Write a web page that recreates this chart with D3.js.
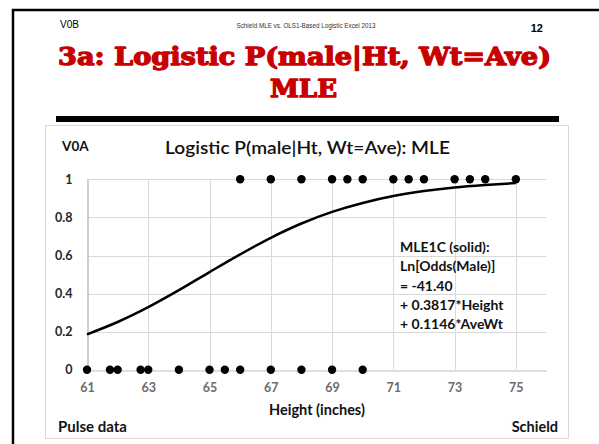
<!DOCTYPE html>
<html>
<head>
<meta charset="utf-8">
<script src="https://cdn.jsdelivr.net/npm/d3@7/dist/d3.min.js"></script>
<style>
  html, body { margin: 0; padding: 0; background: #fff; }
  svg { display: block; }
</style>
</head>
<body>
<svg id="slide" width="599" height="444"></svg>
<script>
// Heights (inches) of males, plotted at P = 1
const maleHeights = [66, 67, 68, 69, 69.5, 70, 71, 71.5, 72, 73, 73.5, 74, 75];
// Heights (inches) of females, plotted at P = 0
const femaleHeights = [61, 61.75, 62, 62.75, 63, 64, 65, 65.5, 66, 67, 68, 69, 70];
// Fitted MLE logistic curve: P(male) at each height, weight held at average
const fitHeights = [61, 62, 63, 64, 65, 66, 67, 68, 69, 70, 71, 72, 73, 74, 75];
const fitProb = [0.186, 0.251, 0.329, 0.418, 0.513, 0.606, 0.693, 0.768, 0.829, 0.876, 0.912, 0.938, 0.957, 0.970, 0.980];
// Axis ticks
const xTicks = [61, 63, 65, 67, 69, 71, 73, 75];
const yTicks = [0, 0.2, 0.4, 0.6, 0.8, 1];
// Fit equation annotation
const noteLines = ["MLE1C (solid):", "Ln[Odds(Male)]", "= -41.40", "+ 0.3817*Height", "+ 0.1146*AveWt"];

const svg = d3.select("#slide");
const sans = "Lato, 'Open Sans', sans-serif";

// Slide frame
svg.append("path")
  .attr("d", "M13,444 V10 H599")
  .attr("fill", "none").attr("stroke", "#000").attr("stroke-width", 2.5);

// Slide header
svg.append("text").attr("x", 60).attr("y", 28)
  .attr("font-family", "'Liberation Sans', Arial, sans-serif").attr("font-size", 10)
  .attr("fill", "#000").text("V0B");
svg.append("text").attr("x", 306).attr("y", 28).attr("text-anchor", "middle")
  .attr("font-family", "'Liberation Sans', Arial, sans-serif").attr("font-size", 6.3)
  .attr("fill", "#333").text("Schield MLE vs. OLS1-Based Logistic Excel 2013");
svg.append("text").attr("x", 543).attr("y", 32).attr("text-anchor", "end")
  .attr("font-family", "'Liberation Sans', Arial, sans-serif").attr("font-size", 11)
  .attr("font-weight", "bold").attr("fill", "#000").text("12");

// Slide title (two lines), heavy slab face
const titleFont = "'DejaVu Serif', serif";
const titleRed = "#c80000";
svg.append("text").attr("x", 58).attr("y", 65)
  .attr("font-family", titleFont).attr("font-size", 23.5).attr("font-weight", "900")
  .attr("fill", titleRed).attr("stroke", titleRed).attr("stroke-width", 1.3)
  .attr("stroke-linejoin", "round")
  .attr("textLength", 493).attr("lengthAdjust", "spacingAndGlyphs")
  .text("3a: Logistic P(male|Ht, Wt=Ave)");
svg.append("text").attr("x", 270).attr("y", 97)
  .attr("font-family", titleFont).attr("font-size", 23.5).attr("font-weight", "900")
  .attr("fill", titleRed).attr("stroke", titleRed).attr("stroke-width", 1.3)
  .attr("stroke-linejoin", "round")
  .attr("textLength", 67).attr("lengthAdjust", "spacingAndGlyphs")
  .text("MLE");

// Thick rule under the title
svg.append("rect").attr("x", 56).attr("y", 116).attr("width", 503).attr("height", 6).attr("fill", "#000");

// Chart box
svg.append("rect").attr("x", 45.5).attr("y", 125.5).attr("width", 523).attr("height", 313)
  .attr("fill", "#fff").attr("stroke", "#d9d9d9").attr("stroke-width", 1);

// Scales
const x = d3.scaleLinear().domain([61, 76]).range([87, 546.5]);
const y = d3.scaleLinear().domain([0, 1]).range([369.8, 179.3]);

const plot = svg.append("g");

// Gridlines
plot.selectAll(".vgrid").data(xTicks.slice(1)).join("line")
  .attr("x1", d => Math.round(x(d)) + 0.5).attr("x2", d => Math.round(x(d)) + 0.5)
  .attr("y1", y(1)).attr("y2", y(0))
  .attr("stroke", "#d9d9d9").attr("stroke-width", 1);
plot.selectAll(".hgrid").data(yTicks.slice(1)).join("line")
  .attr("x1", x(61)).attr("x2", x(76))
  .attr("y1", d => Math.round(y(d)) + 0.5).attr("y2", d => Math.round(y(d)) + 0.5)
  .attr("stroke", "#d9d9d9").attr("stroke-width", 1);

// Axes
const xAxis = d3.axisBottom(x).tickValues(xTicks).tickSize(0).tickPadding(13).tickFormat(d3.format("d"));
const gx = plot.append("g").attr("transform", `translate(0,${Math.round(y(0)) + 0.5})`).call(xAxis);
gx.select(".domain").attr("stroke", "#bfbfbf").attr("stroke-width", 1.2);
gx.selectAll("text").attr("font-family", sans).attr("font-size", 12.5)
  .attr("font-weight", "bold").attr("fill", "#6b6b6b");

const yAxis = d3.axisLeft(y).tickValues(yTicks).tickSize(0).tickPadding(15)
  .tickFormat(d => d === 0 || d === 1 ? d3.format("d")(d) : d3.format(".1f")(d));
const gy = plot.append("g").attr("transform", `translate(${Math.round(x(61)) + 0.5},0)`).call(yAxis);
gy.select(".domain").attr("stroke", "#bfbfbf").attr("stroke-width", 1.5);
gy.selectAll("text").attr("font-family", sans).attr("font-size", 12.5)
  .attr("font-weight", "bold").attr("fill", "#262626");

// Fitted logistic curve
const line = d3.line().x((d, i) => x(fitHeights[i])).y(d => y(d)).curve(d3.curveCatmullRom);
plot.append("path").datum(fitProb).attr("d", line)
  .attr("fill", "none").attr("stroke", "#000").attr("stroke-width", 2.5);

// Observed data points
plot.selectAll(".male").data(maleHeights).join("circle")
  .attr("cx", d => x(d)).attr("cy", y(1)).attr("r", 4.2).attr("fill", "#000");
plot.selectAll(".female").data(femaleHeights).join("circle")
  .attr("cx", d => x(d)).attr("cy", y(0)).attr("r", 4.2).attr("fill", "#000");

// Chart title and corner labels
svg.append("text").attr("x", 165).attr("y", 154)
  .attr("font-family", sans).attr("font-size", 16.5).attr("font-weight", "600").attr("fill", "#111")
  .attr("textLength", 285).attr("lengthAdjust", "spacingAndGlyphs")
  .text("Logistic P(male|Ht, Wt=Ave): MLE");
svg.append("text").attr("x", 62).attr("y", 151)
  .attr("font-family", sans).attr("font-size", 13.5).attr("font-weight", "bold").attr("fill", "#111")
  .text("V0A");
svg.append("text").attr("x", 317).attr("y", 415).attr("text-anchor", "middle")
  .attr("font-family", sans).attr("font-size", 14.5).attr("font-weight", "bold").attr("fill", "#111")
  .text("Height (inches)");
svg.append("text").attr("x", 58).attr("y", 432)
  .attr("font-family", sans).attr("font-size", 15).attr("font-weight", "bold").attr("fill", "#111")
  .text("Pulse data");
svg.append("text").attr("x", 558).attr("y", 432).attr("text-anchor", "end")
  .attr("font-family", sans).attr("font-size", 14.5).attr("font-weight", "bold").attr("fill", "#111")
  .text("Schield");

// Fit equation note
svg.append("g").selectAll("text").data(noteLines).join("text")
  .attr("x", 400).attr("y", (d, i) => 252 + i * 19.3)
  .attr("font-family", sans).attr("font-size", 14).attr("font-weight", "bold").attr("fill", "#111")
  .text(d => d);
</script>
</body>
</html>
